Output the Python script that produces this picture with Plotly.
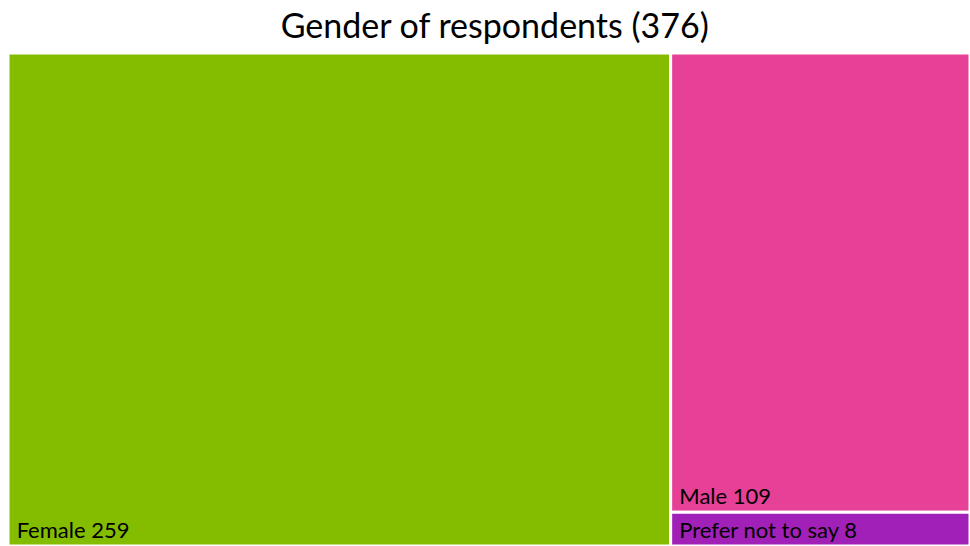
import plotly.graph_objects as go

labels = ["Female", "Male", "Prefer not to say"]
values = [259, 109, 8]
colors = ["#84BC00", "#E64097", "#A020B8"]

total = sum(values)
font_family = "Lato, DejaVu Sans, sans-serif"

fig = go.Figure(go.Treemap(
    labels=labels,
    parents=["" for _ in labels],
    values=values,
    marker=dict(colors=colors, line=dict(color="white", width=3),
                pad=dict(t=0, l=0, r=0, b=0)),
    texttemplate="&nbsp;%{label} %{value}",
    textposition="bottom left",
    textfont=dict(family=font_family, size=22, color="black"),
    tiling=dict(packing="squarify", pad=0),
    pathbar=dict(visible=False),
    hoverinfo="label+value",
    sort=True,
    domain=dict(x=[0, 1], y=[0, 1]),
))

fig.update_layout(
    title=dict(text="Gender of respondents (%d)" % total, x=0.51, xanchor="center",
               y=0.952, yanchor="middle",
               font=dict(family=font_family, size=34, color="black")),
    width=970,
    height=546,
    margin=dict(l=8, r=0, t=53, b=0, autoexpand=False),
    paper_bgcolor="white",
)

# drop the default page margin so the figure fills the window
fig.write_html("out.html",
               config={"displayModeBar": False},
               post_script="document.body.style.margin='0';document.body.style.overflow='hidden';")
